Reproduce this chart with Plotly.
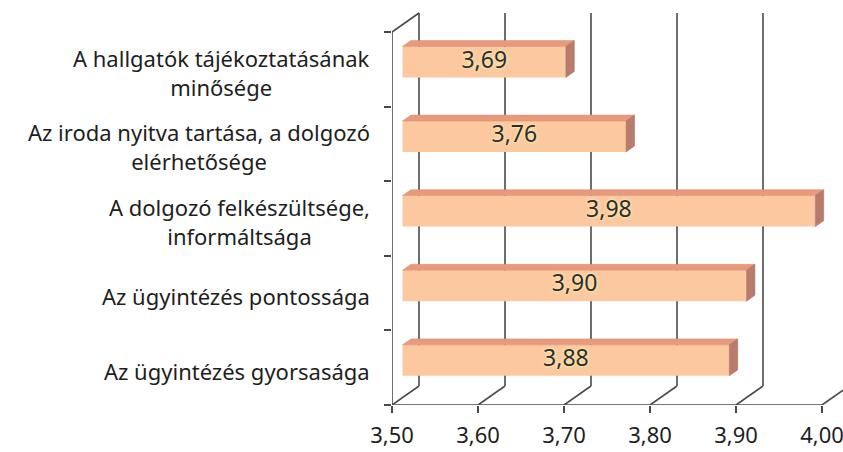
import plotly.graph_objects as go

# data, bottom category first
categories = [
    "Az ügyintézés gyorsasága",
    "Az ügyintézés pontossága",
    "A dolgozó felkészültsége,<br>informáltsága",
    "Az iroda nyitva tartása, a dolgozó<br>elérhetősége",
    "A hallgatók tájékoztatásának<br>minősége",
]
values = [3.88, 3.90, 3.98, 3.76, 3.69]
value_labels = ["3,88", "3,90", "3,98", "3,76", "3,69"]
tick_vals = [3.50, 3.60, 3.70, 3.80, 3.90, 4.00]
tick_text = ["3,50", "3,60", "3,70", "3,80", "3,90", "4,00"]

W, H = 843, 452
left, bottom = 392, 405          # front corner of the chart, px
px_x = 860.0                     # px per unit on value axis
px_y = 74.6                      # px per category
xmin = tick_vals[0]
xr = [xmin, xmin + (W - left) / px_x]
yr = [-0.5, -0.5 + bottom / px_y]

# 3d depth (full wall depth) in data units
DX = 27 / px_x
DY = 19 / px_y
f1, f2 = 0.39, 0.70              # bar front / back depth
hh = 15.5 / px_y                 # half bar height

front_c = "#fbc8a0"
top_c = "#e89a7c"
side_c = "#b97b6b"
line_c = "#4a4a4a"

fig = go.Figure()

# top and side faces of the bars
tx, ty, sx, sy = [], [], [], []
for i, v in enumerate(values):
    x0 = xmin + f1 * DX
    x1 = v + f1 * DX
    yt = i + f1 * DY + hh
    yb = i + f1 * DY - hh
    ddx, ddy = (f2 - f1) * DX, (f2 - f1) * DY
    tx += [x0, x1, x1 + ddx, x0 + ddx, x0, None]
    ty += [yt, yt, yt + ddy, yt + ddy, yt, None]
    sx += [x1, x1, x1 + ddx, x1 + ddx, x1, None]
    sy += [yb, yt, yt + ddy, yb + ddy, yb, None]

fig.add_trace(go.Scatter(x=tx, y=ty, fill="toself", fillcolor=top_c, mode="lines",
                         line=dict(width=0.5, color="#d98a6c"), hoverinfo="skip"))
fig.add_trace(go.Scatter(x=sx, y=sy, fill="toself", fillcolor=side_c, mode="lines",
                         line=dict(width=0.5, color="#a86c5e"), hoverinfo="skip"))

# front faces
bar_y = [i + f1 * DY for i in range(len(values))]
fig.add_trace(go.Bar(
    y=bar_y,
    x=[v - xmin for v in values],
    base=xmin + f1 * DX,
    width=2 * hh,
    orientation="h",
    marker=dict(color=front_c, line=dict(width=0)),
    hoverinfo="skip",
))

# value labels centred on the front faces
fig.add_trace(go.Scatter(
    x=[(xmin + v) / 2 + f1 * DX for v in values],
    y=bar_y,
    mode="text",
    text=value_labels,
    textposition="middle center",
    textfont=dict(family="Noto Sans", size=23, color="#2a2d36",
                  shadow="0px 0px 2px #fff2a8, 0px 0px 4px #fff2a8"),
    hoverinfo="skip",
))

# walls and grid (behind the bars)
shapes = []
def seg(x0, y0, x1, y1):
    shapes.append(dict(type="line", xref="x", yref="y", x0=x0, y0=y0, x1=x1, y1=y1,
                       layer="below", line=dict(color=line_c, width=1.6)))

ylo, yhi = -0.5, len(categories) - 0.5
seg(xmin, ylo, tick_vals[-1], ylo)          # floor front edge
seg(xmin, ylo, xmin, yhi)                   # left wall front edge
seg(xmin, yhi, xmin + DX, yhi + DY)         # left wall top
for t in tick_vals:
    seg(t, ylo, t + DX, ylo + DY)           # floor diagonals
    seg(t + DX, ylo + DY, t + DX, yhi + DY) # back wall gridlines

# category labels, left of the plot area
annotations = []
for i, c in enumerate(categories):
    annotations.append(dict(
        text=c, xref="paper", x=(372 - left) / (W - left), xanchor="right",
        align="center", yref="y", y=i, yshift=-3, showarrow=False,
        font=dict(family="Noto Sans", size=22, color="#1e1e1e"),
    ))

fig.update_layout(
    width=W, height=H,
    margin=dict(l=left, r=0, t=0, b=H - bottom, pad=0),
    paper_bgcolor="white", plot_bgcolor="white",
    showlegend=False,
    shapes=shapes, annotations=annotations,
    xaxis=dict(range=xr, tickvals=tick_vals, ticktext=tick_text,
               ticks="outside", ticklen=7, tickwidth=1.6, tickcolor=line_c,
               ticklabelstandoff=4, ticklabeloverflow="allow",
               showgrid=False, zeroline=False, showline=False, automargin=False,
               tickfont=dict(family="Noto Sans", size=22, color="#1e1e1e")),
    yaxis=dict(range=yr, tickvals=[k - 0.5 for k in range(len(categories) + 1)],
               showticklabels=False, ticks="outside", ticklen=7, tickwidth=1.6,
               tickcolor=line_c, showgrid=False, zeroline=False, showline=False,
               automargin=False),
)

# drop the browser's default page margin so the figure sits at (0, 0)
fig.write_html("out.html", config={"displayModeBar": False},
               post_script="document.body.style.margin='0';")
